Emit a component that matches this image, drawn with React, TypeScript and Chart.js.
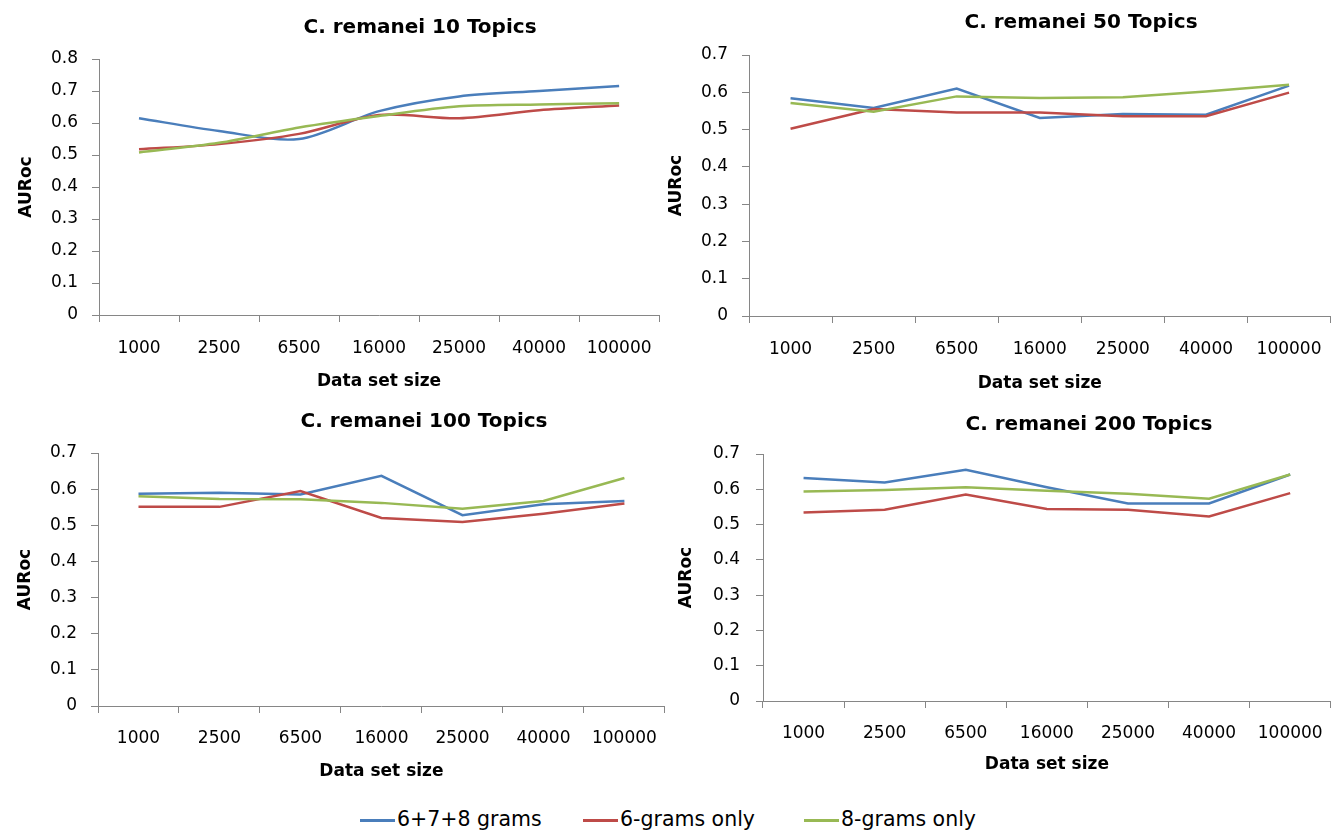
import React, { useEffect, useRef } from "react";
import { Chart, registerables } from "chart.js";

Chart.register(...registerables);

// Category axis shared by all four panels
const dataSetSizes = ["1000", "2500", "6500", "16000", "25000", "40000", "100000"];

const seriesLabels = ["6+7+8 grams", "6-grams only", "8-grams only"];
const seriesColors = ["#4A7EBB", "#BE4B48", "#98B954"];

// AUROC values, 10 topics
const combined10 = [0.615, 0.575, 0.55, 0.637, 0.683, 0.7, 0.716];
const sixOnly10 = [0.518, 0.534, 0.566, 0.625, 0.615, 0.64, 0.655];
const eightOnly10 = [0.508, 0.538, 0.586, 0.622, 0.652, 0.658, 0.662];

// AUROC values, 50 topics
const combined50 = [0.584, 0.558, 0.61, 0.531, 0.542, 0.54, 0.618];
const sixOnly50 = [0.502, 0.555, 0.546, 0.546, 0.536, 0.536, 0.599];
const eightOnly50 = [0.571, 0.548, 0.589, 0.585, 0.587, 0.602, 0.62];

// AUROC values, 100 topics
const combined100 = [0.587, 0.59, 0.585, 0.637, 0.528, 0.558, 0.567];
const sixOnly100 = [0.551, 0.551, 0.595, 0.52, 0.509, 0.532, 0.56];
const eightOnly100 = [0.58, 0.573, 0.572, 0.562, 0.546, 0.567, 0.631];

// AUROC values, 200 topics
const combined200 = [0.632, 0.619, 0.655, 0.606, 0.56, 0.56, 0.642];
const sixOnly200 = [0.534, 0.542, 0.585, 0.544, 0.542, 0.523, 0.589];
const eightOnly200 = [0.594, 0.598, 0.606, 0.596, 0.587, 0.573, 0.642];

const FONT = "'DejaVu Sans', sans-serif";
const AXIS_GREY = "#868686";
const TEXT = "#000000";
const TICK_SIZE = 17;

type Box = { left: number; top: number; width: number; height: number };
type Plot = { left: number; top: number; right: number; bottom: number };

type PanelSpec = {
  title: string;
  titleX: number;
  titleY: number;
  series: number[][];
  yMax: number;
  tension: number;
  box: Box;
  plot: Plot;
  xTickPad: number;
  xTitlePad: number;
  yTickPad: number;
  yTitlePad: number;
};

const panels: PanelSpec[] = [
  {
    title: "C. remanei 10 Topics",
    titleX: 420,
    titleY: 26,
    series: [combined10, sixOnly10, eightOnly10],
    yMax: 0.8,
    tension: 0.3,
    box: { left: 0, top: 0, width: 668, height: 395 },
    plot: { left: 99, top: 59, right: 662, bottom: 315 },
    xTickPad: 16,
    xTitlePad: 3.5,
    yTickPad: 14,
    yTitlePad: 16.5,
  },
  {
    title: "C. remanei 50 Topics",
    titleX: 1081,
    titleY: 21,
    series: [combined50, sixOnly50, eightOnly50],
    yMax: 0.7,
    tension: 0,
    box: { left: 660, top: 0, width: 678, height: 395 },
    plot: { left: 89, top: 55, right: 671, bottom: 316 },
    xTickPad: 16,
    xTitlePad: 1,
    yTickPad: 14,
    yTitlePad: 6.5,
  },
  {
    title: "C. remanei 100 Topics",
    titleX: 424,
    titleY: 420,
    series: [combined100, sixOnly100, eightOnly100],
    yMax: 0.7,
    tension: 0,
    box: { left: 0, top: 395, width: 672, height: 390 },
    plot: { left: 98, top: 58, right: 670, bottom: 311 },
    xTickPad: 15,
    xTitlePad: 3.5,
    yTickPad: 14,
    yTitlePad: 15.5,
  },
  {
    title: "C. remanei 200 Topics",
    titleX: 1089,
    titleY: 423,
    series: [combined200, sixOnly200, eightOnly200],
    yMax: 0.7,
    tension: 0,
    box: { left: 660, top: 395, width: 678, height: 390 },
    plot: { left: 103, top: 59, right: 673, bottom: 306 },
    xTickPad: 15,
    xTitlePad: 10,
    yTickPad: 16,
    yTitlePad: 16.5,
  },
];

function LinePanel({ spec }: { spec: PanelSpec }) {
  const canvasRef = useRef<HTMLCanvasElement | null>(null);

  useEffect(() => {
    const canvas = canvasRef.current;
    if (!canvas) return;
    const { box, plot } = spec;
    const chart = new Chart(canvas, {
      type: "line",
      data: {
        labels: dataSetSizes,
        datasets: spec.series.map((values, i) => ({
          label: seriesLabels[i],
          data: values,
          borderColor: seriesColors[i],
          backgroundColor: seriesColors[i],
          borderWidth: 2.5,
          pointRadius: 0,
          pointHoverRadius: 0,
          tension: spec.tension,
          fill: false,
          order: 2 - i,
        })),
      },
      options: {
        responsive: false,
        animation: false,
        events: [],
        layout: {
          padding: { left: 0, top: plot.top, right: box.width - plot.right, bottom: 0 },
        },
        plugins: {
          legend: { display: false },
          title: { display: false },
          tooltip: { enabled: false },
        },
        scales: {
          x: {
            type: "category",
            offset: true,
            grid: {
              offset: true,
              drawOnChartArea: false,
              drawTicks: true,
              tickLength: 7,
              color: AXIS_GREY,
              lineWidth: 1,
            },
            border: { display: true, color: AXIS_GREY, width: 1 },
            ticks: {
              color: TEXT,
              font: { family: FONT, size: TICK_SIZE },
              padding: spec.xTickPad,
              maxRotation: 0,
              autoSkip: false,
            },
            title: {
              display: true,
              text: "Data set size",
              color: TEXT,
              font: { family: FONT, size: 17, weight: "bold" },
              padding: { top: 0, bottom: spec.xTitlePad },
            },
            afterFit: (scale: any) => {
              scale.height = box.height - plot.bottom;
            },
          },
          y: {
            min: 0,
            max: spec.yMax,
            grid: {
              drawOnChartArea: false,
              drawTicks: true,
              tickLength: 7,
              color: AXIS_GREY,
              lineWidth: 1,
            },
            border: { display: true, color: AXIS_GREY, width: 1 },
            ticks: {
              stepSize: 0.1,
              color: TEXT,
              font: { family: FONT, size: TICK_SIZE },
              padding: spec.yTickPad,
              callback: (v: any) => (Math.abs(Number(v)) < 1e-9 ? "0" : Number(v).toFixed(1)),
            },
            title: {
              display: true,
              text: "AURoc",
              color: TEXT,
              font: { family: FONT, size: 17, weight: "bold" },
              padding: { top: spec.yTitlePad, bottom: 0 },
            },
            afterFit: (scale: any) => {
              scale.width = plot.left;
            },
          },
        },
      },
    });
    return () => chart.destroy();
  }, [spec]);

  return (
    <>
      <canvas
        ref={canvasRef}
        width={spec.box.width}
        height={spec.box.height}
        style={{
          position: "absolute",
          left: spec.box.left,
          top: spec.box.top,
          width: spec.box.width,
          height: spec.box.height,
          display: "block",
        }}
      />
      <div
        style={{
          position: "absolute",
          left: spec.titleX,
          top: spec.titleY,
          transform: "translate(-50%, -50%)",
          fontFamily: FONT,
          fontWeight: "bold",
          fontSize: 20,
          lineHeight: 1,
          whiteSpace: "nowrap",
          color: TEXT,
        }}
      >
        {spec.title}
      </div>
    </>
  );
}

// Shared legend along the bottom edge
const legendLayout = [
  { lineX: 360, textX: 397 },
  { lineX: 583, textX: 620 },
  { lineX: 804, textX: 841 },
];

function Legend() {
  const y = 819;
  return (
    <>
      {seriesLabels.map((label, i) => (
        <React.Fragment key={label}>
          <div
            style={{
              position: "absolute",
              left: legendLayout[i].lineX,
              top: y,
              width: 35,
              height: 3,
              background: seriesColors[i],
            }}
          />
          <div
            style={{
              position: "absolute",
              left: legendLayout[i].textX,
              top: y,
              transform: "translateY(-50%)",
              fontFamily: FONT,
              fontSize: 20.5,
              lineHeight: 1,
              whiteSpace: "nowrap",
              color: TEXT,
            }}
          >
            {label}
          </div>
        </React.Fragment>
      ))}
    </>
  );
}

export default function App() {
  return (
    <div
      style={{
        position: "fixed",
        left: 0,
        top: 0,
        width: 1338,
        height: 833,
        background: "#ffffff",
        overflow: "hidden",
      }}
    >
      {panels.map((p) => (
        <LinePanel key={p.title} spec={p} />
      ))}
      <Legend />
    </div>
  );
}
